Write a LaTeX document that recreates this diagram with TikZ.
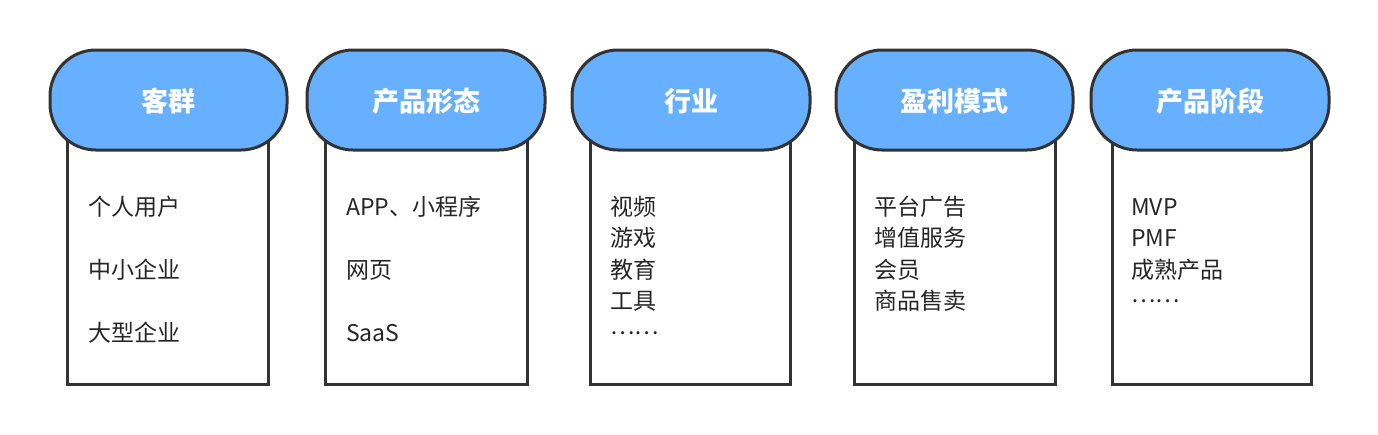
\documentclass[tikz,border=0pt]{standalone}
\usepackage{fontspec}
\setmainfont{Noto Sans CJK SC}
\begin{document}
\begin{tikzpicture}[x=1pt,y=-1pt,
  bodybox/.style={draw=black!80,line width=3pt,fill=white},
  pill/.style={draw=black!80,line width=3pt,fill=hdr,rounded corners=46pt},
  hdrtext/.style={text=white,font=\fontsize{27}{30}\selectfont\bfseries},
  item/.style={anchor=west,font=\fontsize{23}{26}\selectfont,text=black!85,inner sep=0pt}]
\definecolor{hdr}{HTML}{66B0FF}
\useasboundingbox (0,0) rectangle (1378,434);
\foreach \hl/\hr/\bl/\br/\t/\n in {50/287/67/268/客群/a,307/545/325/527/产品形态/b,572/810/590/790/行业/c,836/1073/854/1055/盈利模式/d,1091/1329/1112/1311/产品阶段/e}{
  \draw[bodybox] (\bl,140) rectangle (\br,384);
  \draw[pill] (\hl,50) rectangle (\hr,150);
  \node[hdrtext] (h\n) at ({(\hl+\hr)/2},101) {\t};
}
\node[item] (a1) at (88,207) {个人用户};
\node[item] (a2) at (88,270) {中小企业};
\node[item] (a3) at (88,333) {大型企业};
\node[item] (b1) at (346,207) {APP、小程序};
\node[item] (b2) at (346,270) {网页};
\node[item] (b3) at (346,333) {SaaS};
\node[item] (c1) at (610,207) {视频};
\node[item] (c2) at (610,238) {游戏};
\node[item] (c3) at (610,270) {教育};
\node[item] (c4) at (610,301) {工具};
\node[item] (c5) at (610,333) {……};
\node[item] (d1) at (874,207) {平台广告};
\node[item] (d2) at (874,238) {增值服务};
\node[item] (d3) at (874,270) {会员};
\node[item] (d4) at (874,301) {商品售卖};
\node[item] (e1) at (1131,207) {MVP};
\node[item] (e2) at (1131,238) {PMF};
\node[item] (e3) at (1131,270) {成熟产品};
\node[item] (e4) at (1131,301) {……};
\end{tikzpicture}
\end{document}
